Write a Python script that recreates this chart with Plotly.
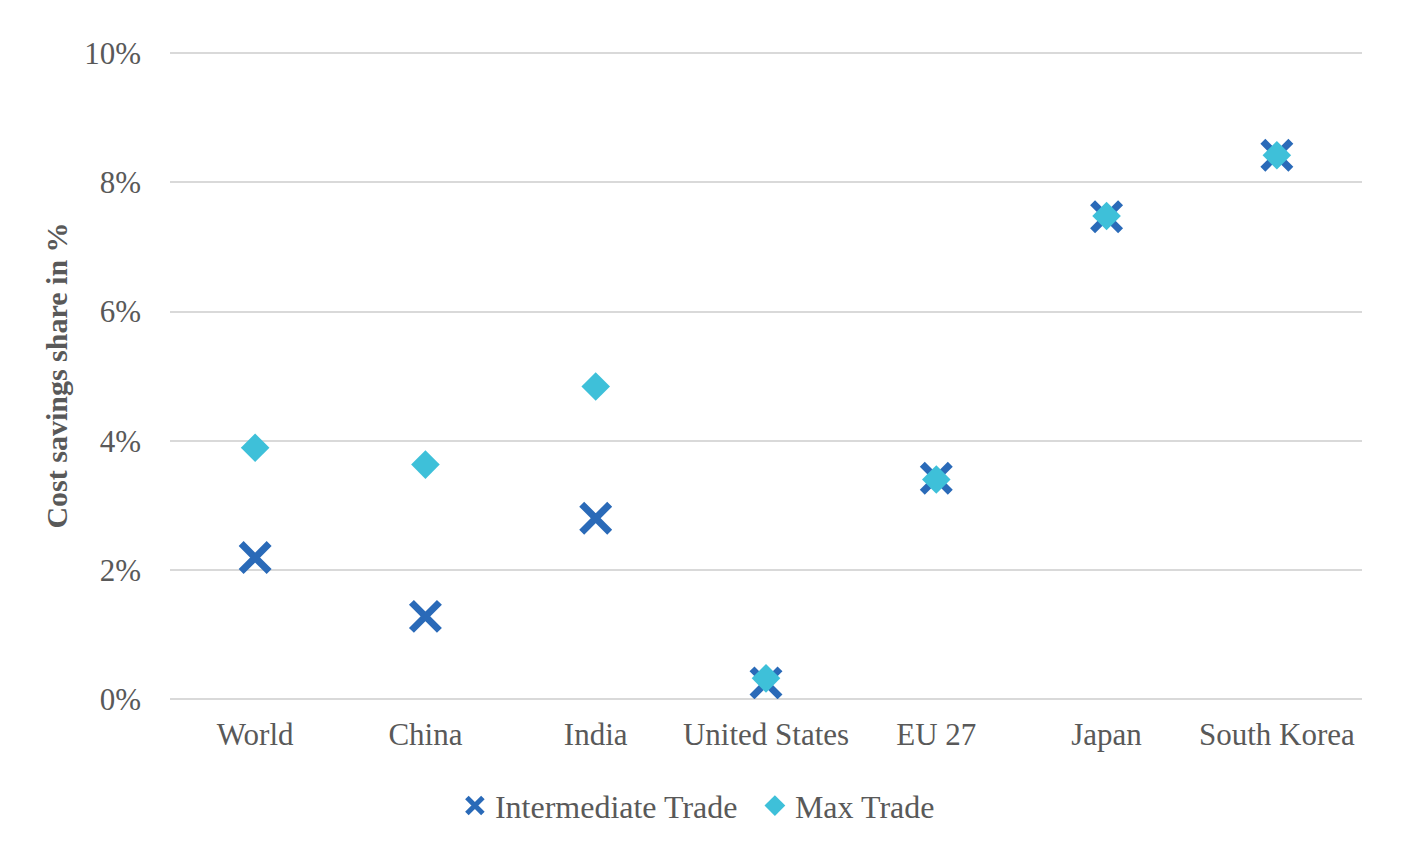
import plotly.graph_objects as go

categories = ["World", "China", "India", "United States", "EU 27", "Japan", "South Korea"]
intermediate_trade = [2.19, 1.28, 2.80, 0.25, 3.42, 7.47, 8.42]
max_trade = [3.89, 3.63, 4.84, 0.32, 3.40, 7.48, 8.42]
y_ticks = [0, 2, 4, 6, 8, 10]

font_family = "Liberation Serif, Times New Roman, serif"
text_color = "#595959"
grid_color = "#d9d9d9"

fig = go.Figure()
fig.add_trace(go.Scatter(
    x=categories, y=intermediate_trade, mode="markers", name="Intermediate Trade",
    marker=dict(symbol="x-thin-open", size=28, color="#2a6ab8",
                line=dict(width=7, color="#2a6ab8")),
))
fig.add_trace(go.Scatter(
    x=categories, y=max_trade, mode="markers", name="Max Trade",
    marker=dict(symbol="diamond", size=22, color="#3ec0d9",
                line=dict(width=0)),
))

fig.update_layout(
    width=1398, height=856,
    margin=dict(l=162, r=44, t=44, b=165),
    paper_bgcolor="white", plot_bgcolor="white",
    font=dict(family=font_family, size=31, color=text_color),
    showlegend=True,
    legend=dict(orientation="h", x=0.239, xanchor="left", y=-0.165, yanchor="middle",
                font=dict(size=32, color=text_color), itemsizing="trace",
                itemwidth=30, tracegroupgap=0,
                entrywidth=255, entrywidthmode="pixels"),
    xaxis=dict(type="category", range=[-0.5, 6.5], showgrid=False, showline=False,
               zeroline=False, ticks="", tickfont=dict(size=31, color=text_color),
               ticklabelstandoff=14),
    yaxis=dict(range=[0, 10.02], tickvals=y_ticks, ticktext=[f"{v}%" for v in y_ticks],
               showgrid=True, gridcolor=grid_color, gridwidth=2,
               zeroline=True, zerolinecolor=grid_color, zerolinewidth=2,
               showline=False, ticks="", ticklen=0,
               tickfont=dict(size=31, color=text_color),
               ticklabelstandoff=28,
               title=dict(text="<b>Cost savings share in %</b>", standoff=7,
                          font=dict(size=30, color=text_color))),
)

fig.write_html("out.html")
